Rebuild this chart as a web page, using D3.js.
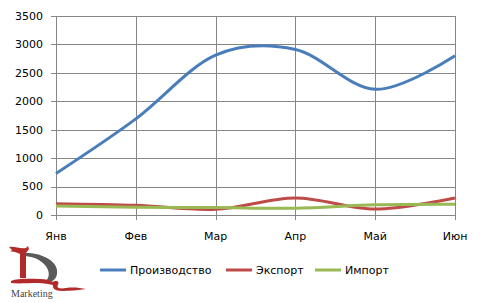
<!DOCTYPE html>
<head>
    <meta charset="utf-8">
    <script src="https://d3js.org/d3.v7.min.js"></script>
    <style>
        body { margin:0; background:#fff; }
        text { font-family: "DejaVu Sans", sans-serif; fill: #000; }
        .grid line { stroke: #868686; stroke-width: 1; }
        .axis text { font-size: 11px; }
        .series { fill: none; stroke-width: 3; }
        .legend text { font-size: 11px; }
    </style>
</head>
<body>
<script>
    var months = ['Янв', 'Фев', 'Мар', 'Апр', 'Май', 'Июн'];
    var production = [730, 1690, 2810, 2910, 2210, 2800];
    var exports = [200, 170, 100, 300, 105, 300];
    var imports = [160, 135, 130, 120, 180, 190];
    var yTicks = [0, 500, 1000, 1500, 2000, 2500, 3000, 3500];
    var seriesNames = ['Производство', 'Экспорт', 'Импорт'];
    var colors = ['#4a7ebb', '#be4b48', '#98b954'];

    var W = 498, H = 303;
    var plotL = 56, plotR = 455, plotT = 16, plotB = 215;

    var svg = d3.select('body').append('svg')
        .attr('width', W)
        .attr('height', H);

    var x = d3.scalePoint().domain(months).range([plotL, plotR]);
    var y = d3.scaleLinear().domain([0, 3500]).range([plotB, plotT]);

    // gridlines
    var grid = svg.append('g').attr('class', 'grid');
    grid.selectAll('.h').data(yTicks).enter().append('line')
        .attr('x1', plotL - 5).attr('x2', plotR)
        .attr('y1', d => Math.round(y(d)) + 0.5).attr('y2', d => Math.round(y(d)) + 0.5);
    grid.selectAll('.v').data(months).enter().append('line')
        .attr('x1', d => Math.round(x(d)) + 0.5).attr('x2', d => Math.round(x(d)) + 0.5)
        .attr('y1', plotT).attr('y2', plotB + 5);

    // axis labels
    var axis = svg.append('g').attr('class', 'axis');
    axis.selectAll('.yl').data(yTicks).enter().append('text')
        .attr('x', 43).attr('y', d => y(d)).attr('dy', '0.35em')
        .attr('text-anchor', 'end')
        .text(d => d);
    axis.selectAll('.xl').data(months).enter().append('text')
        .attr('x', d => x(d)).attr('y', 240)
        .attr('text-anchor', 'middle')
        .text(d => d);

    var line = d3.line()
        .x((d, i) => x(months[i]))
        .y(d => y(d))
        .curve(d3.curveCardinal.tension(0));

    var all = [production, exports, imports];
    [0, 1, 2].forEach(i => {
        svg.append('path')
            .attr('class', 'series')
            .attr('stroke', colors[i])
            .attr('d', line(all[i]));
    });

    // legend
    var legendX = [100, 226, 315];
    var legend = svg.append('g').attr('class', 'legend');
    seriesNames.forEach((name, i) => {
        legend.append('line')
            .attr('x1', legendX[i]).attr('x2', legendX[i] + 26)
            .attr('y1', 270).attr('y2', 270)
            .attr('stroke', colors[i]).attr('stroke-width', 3);
        legend.append('text')
            .attr('x', legendX[i] + 30).attr('y', 270).attr('dy', '0.35em')
            .text(name);
    });

    // logo (rough sketch of the "1D Marketing" mark)
    var logo = svg.append('g');
    // grey D arc
    logo.append('path')
        .attr('d', 'M23,253 C40,252 56,260 57,270 C58,277 54,281 49,283 L46,281 C50,277 50,270 44,264 C38,258 30,256 23,256 Z')
        .attr('fill', '#5a5a5a');
    // red 1: top flourish + stem
    logo.append('path')
        .attr('d', 'M9,247 C14,246 20,249 26,248 L28,246 L29,249 L26,253 L26,278 L20,278 L20,254 C16,252 12,251 10,252 L12,250 Z')
        .attr('fill', '#b22b2b');
    // red base swoosh
    logo.append('path')
        .attr('d', 'M11,281 C18,278 30,279 40,279 C46,279 50,280 52,282 C56,280 60,281 58,285 C56,288 60,289 66,288 C74,287 80,288 86,289 C78,290 70,291 62,291 C55,291 52,288 53,285 C48,284 44,283 38,283 C28,283 18,284 11,283 Z')
        .attr('fill', '#b22b2b');
    logo.append('text')
        .attr('x', 11).attr('y', 297)
        .style('font-family', '"Liberation Serif", serif')
        .style('font-size', '10px')
        .style('fill', '#444')
        .text('Marketing');
</script>
</body>
